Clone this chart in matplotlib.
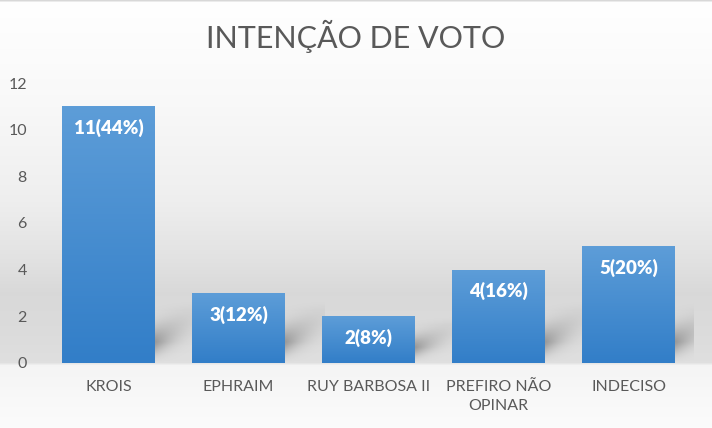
import matplotlib.pyplot as plt
import numpy as np

categorias = ['KROIS', 'EPHRAIM', 'RUY BARBOSA II', 'PREFIRO NÃO\nOPINAR', 'INDECISO']
votos = [11, 3, 2, 4, 5]
rotulos = ['11(44%)', '3(12%)', '2(8%)', '4(16%)', '5(20%)']
yticks = [0, 2, 4, 6, 8, 10, 12]

plt.rcParams['font.family'] = ['Lato', 'DejaVu Sans']
cinza = '#595959'

fig = plt.figure(figsize=(7.12, 4.28), dpi=100)

# fundo em degrade (estilo Excel)
bg = fig.add_axes([0, 0, 1, 1], zorder=-2)
py = np.arange(428)
stops_y = [0, 2, 100, 200, 260, 292, 330, 362, 365, 428]
stops_v = [0.85, 1.0, 0.975, 0.935, 0.885, 0.85, 0.86, 0.875, 0.96, 0.985]
col = np.interp(py, stops_y, stops_v)
grad = np.repeat(col[:, None], 4, axis=1)
bg.imshow(np.dstack([grad, grad, grad]), aspect='auto', extent=[0, 1, 0, 1],
          origin='upper')
bg.axis('off')

ax = fig.add_axes([0.0611, 0.152, 0.913, 0.654])
ax.patch.set_alpha(0)
x = np.arange(len(categorias))
larg = 0.715
barras = ax.bar(x, votos, width=larg, color='#4a90d2', zorder=3)

# gradiente das barras
top = np.array([93, 157, 216]) / 255
bot = np.array([50, 126, 200]) / 255
t = np.linspace(0, 1, 100)[:, None]
gb = (top * (1 - t) + bot * t)[:, None, :]
for b in barras:
    x0, y0, w, h = b.get_x(), b.get_y(), b.get_width(), b.get_height()
    im = ax.imshow(gb, extent=[x0, x0 + w, y0, y0 + h], aspect='auto',
                   origin='upper', zorder=4)
    im.set_clip_path(b)

# sombras atras das barras
for xi, v in zip(x, votos):
    hs = min(v, 2.7)
    nx, ny = 60, 60
    gx = np.linspace(0, 1, nx)[None, :]
    gy = np.linspace(0, 1, ny)[:, None]
    # faixa diagonal suave
    centro = 0.25 + 0.45 * gx
    a = np.exp(-((1 - gy) - centro) ** 2 / 0.08) * np.exp(-gx * 2.2)
    a = a * np.clip((1 - gy) * 3, 0, 1) * np.clip(gy * 6, 0, 1)
    rgba = np.zeros((ny, nx, 4))
    rgba[..., :3] = 0.42
    rgba[..., 3] = 0.65 * a / a.max()
    x0 = xi + larg / 2 - 0.02
    ax.imshow(rgba, extent=[x0, x0 + 0.33, 0, hs], aspect='auto',
              origin='upper', zorder=2)

for xi, v, r in zip(x, votos, rotulos):
    ax.annotate(r, (xi, v), xytext=(0, -9), textcoords='offset points',
                ha='center', va='top', color='white', fontsize=13.5,
                fontweight='heavy', zorder=6)

ax.set_xlim(-0.5, len(categorias) - 0.5)
ax.set_ylim(0, 12)
ax.set_yticks(yticks)
ax.set_xticks(x)
ax.set_xticklabels(categorias, fontsize=11.5, color=cinza, linespacing=1.5)
ax.tick_params(axis='y', labelsize=11.5, labelcolor=cinza, length=0, pad=12)
ax.tick_params(axis='x', length=0, pad=12)
for s in ax.spines.values():
    s.set_visible(False)

fig.text(0.5, 0.915, 'INTENÇÃO DE VOTO', ha='center', va='center',
         fontsize=22, color=cinza)

fig.savefig('out.png', dpi=100)
